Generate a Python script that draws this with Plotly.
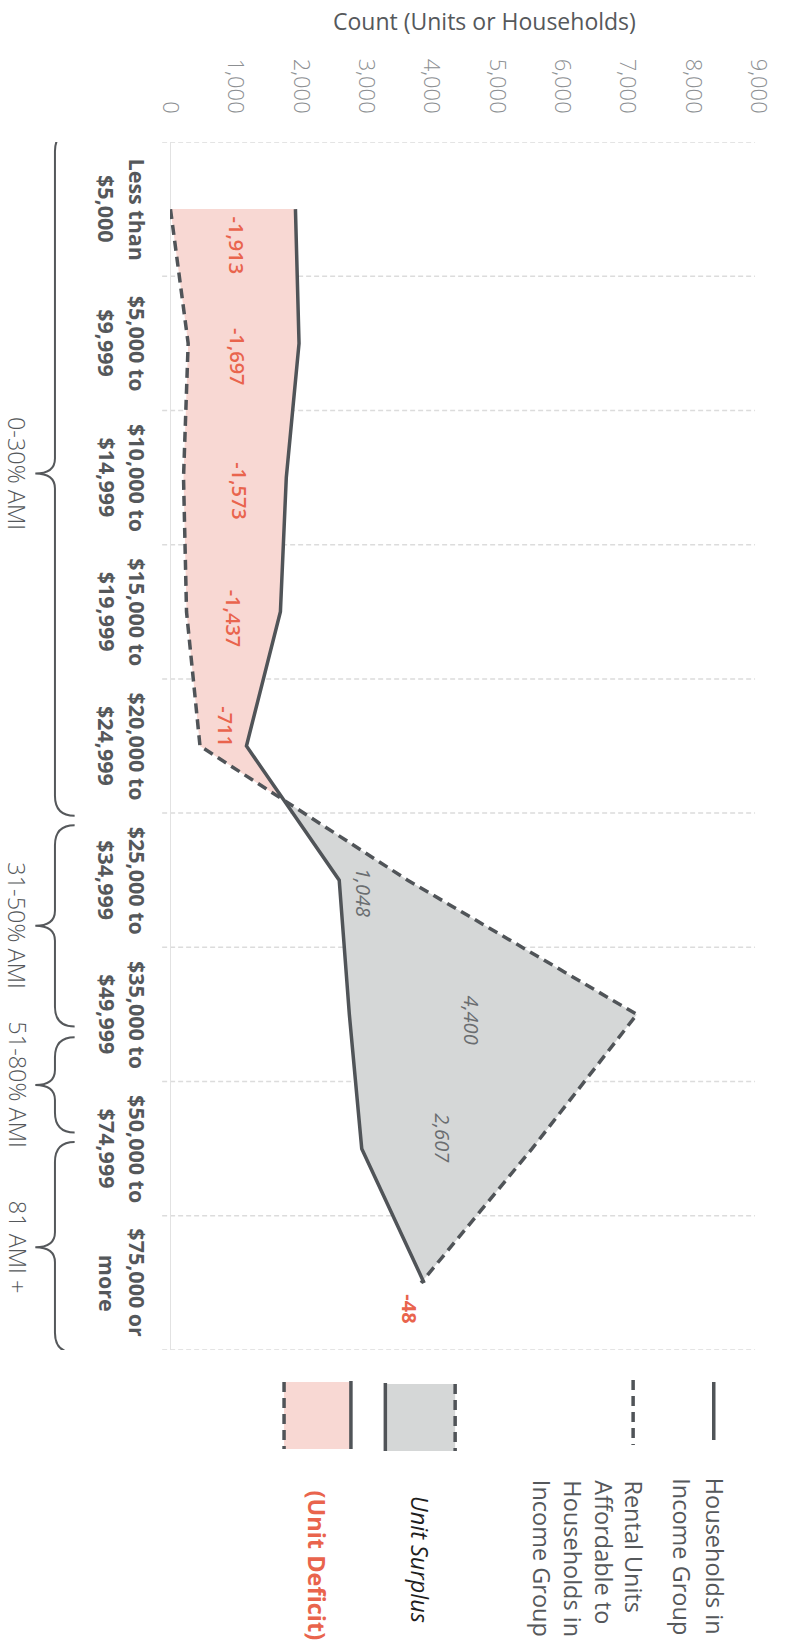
import plotly.graph_objects as go

# ---- data -------------------------------------------------------------
CATEGORY_LINES = [
    ("Less than", "$5,000"),
    ("$5,000 to", "$9,999"),
    ("$10,000 to", "$14,999"),
    ("$15,000 to", "$19,999"),
    ("$20,000 to", "$24,999"),
    ("$25,000 to", "$34,999"),
    ("$35,000 to", "$49,999"),
    ("$50,000 to", "$74,999"),
    ("$75,000 or", "more"),
]
HOUSEHOLDS = [1920, 1975, 1780, 1690, 1170, 2590, 2745, 2935, 3890]
RENTAL_UNITS = [7, 278, 207, 253, 459, 3638, 7145, 5542, 3842]

AMI_GROUPS = ["0-30% AMI", "31-50% AMI", "51-80% AMI", "81 AMI +"]
AMI_SPANS = [(-0.58, 4.52), (4.59, 6.09), (6.17, 6.88), (6.95, 8.52)]

COUNT_TICKS = [0, 1000, 2000, 3000, 4000, 5000, 6000, 7000, 8000, 9000]

# positions of the gap labels (count, band)
GAP_LABEL_POS = [(1023, 0.27), (1023, 1.10), (1053, 2.10), (977, 3.05), (857, 3.86),
                 (2960, 5.09), (4610, 6.04), (4160, 6.92), (3660, 8.19)]

# ---- styling ----------------------------------------------------------
FONT = "Open Sans"
LINE_COLOR = "#505458"
TEXT_DARK = "#55585b"
TICK_GRAY = "#8c8f92"
DEFICIT_FILL = "#f8d8d3"
SURPLUS_FILL = "#d5d7d7"
DEFICIT_TEXT = "#e9644d"
GRID = "#dcdcdc"

W, H = 787, 1644
L, R, T, B = 170, 19, 142, 294
PW, PH = W - L - R, H - T - B
XMAX = 9000


def px_x(px):
    return (px - L) / PW


def px_y(py):
    return (H - B - py) / PH


band_px = PH / 9.0

fig = go.Figure()

# ---- filled gap polygons (deficit / surplus) --------------------------
n = len(HOUSEHOLDS)
gaps = [r - h for r, h in zip(RENTAL_UNITS, HOUSEHOLDS)]
polys = []
cur_h = [(HOUSEHOLDS[0], 0)]
cur_r = [(RENTAL_UNITS[0], 0)]
cur_sign = gaps[0] >= 0
for i in range(n - 1):
    d0, d1 = gaps[i], gaps[i + 1]
    if (d1 >= 0) != cur_sign:
        t = d0 / (d0 - d1)
        xc = HOUSEHOLDS[i] + t * (HOUSEHOLDS[i + 1] - HOUSEHOLDS[i])
        yc = i + t
        cur_h.append((xc, yc))
        polys.append((cur_sign, cur_h + cur_r[::-1]))
        cur_h = [(xc, yc)]
        cur_r = []
        cur_sign = d1 >= 0
    cur_h.append((HOUSEHOLDS[i + 1], i + 1))
    cur_r.append((RENTAL_UNITS[i + 1], i + 1))
polys.append((cur_sign, cur_h + cur_r[::-1]))

for surplus, pts in polys:
    fig.add_trace(go.Scatter(
        x=[p[0] for p in pts] + [pts[0][0]],
        y=[p[1] for p in pts] + [pts[0][1]],
        fill="toself", fillcolor=SURPLUS_FILL if surplus else DEFICIT_FILL,
        line=dict(width=0), mode="lines", hoverinfo="skip", showlegend=False))

# ---- the two series ---------------------------------------------------
bands = list(range(n))
fig.add_trace(go.Scatter(x=RENTAL_UNITS, y=bands, mode="lines",
                         line=dict(color=LINE_COLOR, width=3.5, dash="10px,6px"),
                         showlegend=False, name="Rental Units"))
fig.add_trace(go.Scatter(x=HOUSEHOLDS, y=bands, mode="lines",
                         line=dict(color=LINE_COLOR, width=3.5),
                         showlegend=False, name="Households"))

shapes = []
annotations = []

# ---- grid: dashed band boundaries + zero line ------------------------
for k in range(n + 1):
    yb = k - 0.5
    shapes.append(dict(type="line", xref="paper", yref="y",
                       x0=px_x(162), x1=px_x(765), y0=yb, y1=yb,
                       line=dict(color=GRID, width=1.5, dash="5px,3px"), layer="below"))
shapes.append(dict(type="line", xref="x", yref="y", x0=0, x1=0, y0=-0.5, y1=n - 0.5,
                   line=dict(color="#e2e2e2", width=2), layer="below"))

# ---- gap labels --------------------------------------------------------
for g, (lx, ly) in zip(gaps, GAP_LABEL_POS):
    if g < 0:
        f = dict(family=FONT, size=20, color=DEFICIT_TEXT, weight=700 if abs(g) < 100 else 600)
    else:
        f = dict(family=FONT, size=20, color="#6a6d70", style="italic", weight=400)
    annotations.append(dict(x=lx, y=ly, xref="x", yref="y", text=f"{g:,}",
                            xanchor="center", yanchor="middle",
                            textangle=90, showarrow=False, font=f))

# ---- category labels ---------------------------------------------------
for i, (l1, l2) in enumerate(CATEGORY_LINES):
    for txt, xp in ((l1, 137), (l2, 106)):
        annotations.append(dict(x=px_x(xp), y=i, xref="paper", yref="y", text=txt,
                                xanchor="center", yanchor="middle",
                                textangle=90, showarrow=False,
                                font=dict(family=FONT, size=21.5, color=TEXT_DARK, weight=700)))

# ---- AMI group braces --------------------------------------------------
xl, xe, xt = px_x(53), px_x(73), px_x(33)
rr = 20 / band_px
tt = 15 / band_px
for name, (y0, y1) in zip(AMI_GROUPS, AMI_SPANS):
    ym = (y0 + y1) / 2
    path = (f"M {xe},{y0} Q {xl},{y0} {xl},{y0 + rr} "
            f"L {xl},{ym - tt} Q {xl},{ym} {xt},{ym} "
            f"Q {xl},{ym} {xl},{ym + tt} "
            f"L {xl},{y1 - rr} Q {xl},{y1} {xe},{y1}")
    shapes.append(dict(type="path", xref="paper", yref="y", path=path,
                       line=dict(color=TEXT_DARK, width=2)))
    annotations.append(dict(x=px_x(15), y=ym, xref="paper", yref="y", text=name,
                            xanchor="center", yanchor="middle",
                            textangle=90, showarrow=False,
                            font=dict(family=FONT, size=23.5, color=TEXT_DARK, weight=300)))

# ---- axis title ---------------------------------------------------------
annotations.append(dict(x=px_x(490), y=px_y(21), xref="paper", yref="paper",
                        xanchor="center", yanchor="middle",
                        text="Count (Units or Households)", showarrow=False,
                        font=dict(family=FONT, size=23, color=TEXT_DARK)))

# ---- legend (drawn by hand, rotated like the chart) ---------------------
def pline(x0, y0, x1, y1, dash=None, color=LINE_COLOR, width=3.5):
    ln = dict(color=color, width=width)
    if dash:
        ln["dash"] = dash
    shapes.append(dict(type="line", xref="paper", yref="paper",
                       x0=px_x(x0), x1=px_x(x1), y0=px_y(y0), y1=px_y(y1), line=ln))


def prect(x0, y0, x1, y1, color):
    shapes.append(dict(type="rect", xref="paper", yref="paper",
                       x0=px_x(x0), x1=px_x(x1), y0=px_y(y0), y1=px_y(y1),
                       fillcolor=color, line=dict(width=0)))


def ltext(txt, xp, yp, **font):
    f = dict(family=FONT, size=23.5, color=TEXT_DARK)
    f.update(font)
    annotations.append(dict(x=px_x(xp), y=px_y(yp), xref="paper", yref="paper",
                            text=txt, textangle=90, showarrow=False,
                            xanchor="center", yanchor="top", font=f))


pline(723, 1382, 723, 1440)
pline(641, 1380, 641, 1445, dash="10px,6px")
prect(389, 1384, 460, 1451, SURPLUS_FILL)
pline(389, 1383, 389, 1451)
pline(460, 1384, 460, 1451, dash="10px,6px")
prect(286, 1382, 354, 1449, DEFICIT_FILL)
pline(286, 1382, 286, 1449, dash="10px,6px")
pline(354, 1381, 354, 1449)

for txt, xp in (("Households in", 725), ("Income Group", 691)):
    ltext(txt, xp, 1476)
for txt, xp in (("Rental Units", 642), ("Affordable to", 611),
                ("Households in", 580), ("Income Group", 549)):
    ltext(txt, xp, 1478)
ltext("Unit Surplus", 425, 1494, style="italic", color="#1e1e1e")
ltext("(Unit Deficit)", 320, 1489, weight=700, color=DEFICIT_TEXT)

fig.update_layout(
    width=W, height=H, autosize=False,
    margin=dict(l=L, r=R, t=T, b=B, pad=0),
    paper_bgcolor="white", plot_bgcolor="white",
    shapes=shapes, annotations=annotations, showlegend=False,
    xaxis=dict(range=[0, XMAX], side="top", tickmode="array", tickvals=COUNT_TICKS,
               ticktext=[f"{v:,}" for v in COUNT_TICKS], tickangle=90, ticks="",
               showgrid=False, zeroline=False, showline=False, ticklabelstandoff=24,
               tickfont=dict(family=FONT, size=22, color=TICK_GRAY, weight=300), fixedrange=True),
    yaxis=dict(range=[n - 0.5, -0.5], showticklabels=False, showgrid=False,
               zeroline=False, showline=False, fixedrange=True),
)

fig.write_html("out.html")
